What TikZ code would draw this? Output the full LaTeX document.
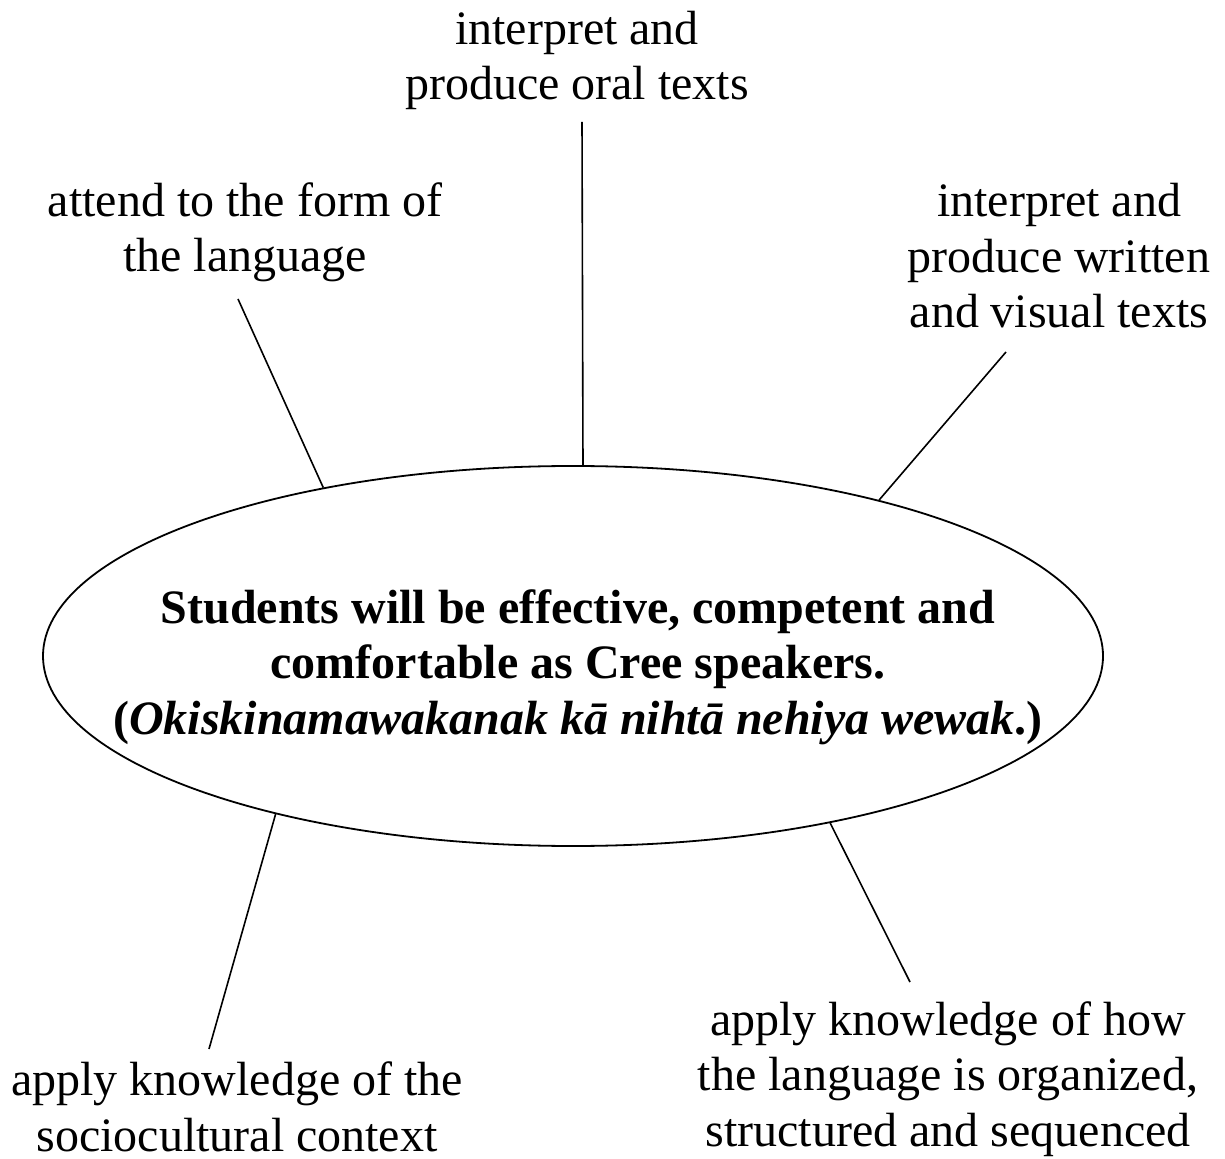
\documentclass[tikz,border=0pt]{standalone}
\usepackage{fontspec}
\setmainfont{Liberation Serif}
\usetikzlibrary{shapes.geometric}

\begin{document}
\begin{tikzpicture}[x=0.5pt,y=-0.5pt,
	outcome/.style={align=center,anchor=base,inner sep=0pt,font=\fontsize{24}{27.75}\selectfont},
	spoke/.style={line width=0.8pt}]
	\useasboundingbox (0,0) rectangle (1225,1159);

	% central goal
	\node[draw,ellipse,line width=0.9pt,minimum width=530pt,minimum height=190pt,inner sep=0pt] (goal) at (573,656) {};
	\node[outcome,font=\fontsize{24}{27.75}\selectfont\bfseries] (goaltext) at (578,734)
		{Students will be effective, competent and\\comfortable as Cree speakers.\\(\textit{Okiskinamawakanak kā nihtā nehiya wewak}.)};

	% outcomes round it (base = last line)
	\node[outcome] (oral) at (577,100) {interpret and\\produce oral texts};
	\node[outcome] (form) at (245,272) {attend to the form of\\the language};
	\node[outcome] (written) at (1059,328) {interpret and\\produce written\\and visual texts};
	\node[outcome] (socio) at (237,1151) {apply knowledge of the\\sociocultural context};
	\node[outcome] (organized) at (948,1146) {apply knowledge of how\\the language is organized,\\structured and sequenced};

	% free ends of the spokes
	\coordinate (oralend) at (582,122);
	\coordinate (formend) at (238,299);
	\coordinate (writtenend) at (1006,352);
	\coordinate (socioend) at (209,1049);
	\coordinate (organizedend) at (910,982);

	\draw[spoke] (oralend) -- (goal.87.3);
	\draw[spoke] (formend) -- (goal.146);
	\draw[spoke] (writtenend) -- (goal.27.3);
	\draw[spoke] (socioend) -- (goal.208.6);
	\draw[spoke] (organizedend) -- (goal.327.4);
\end{tikzpicture}
\end{document}
